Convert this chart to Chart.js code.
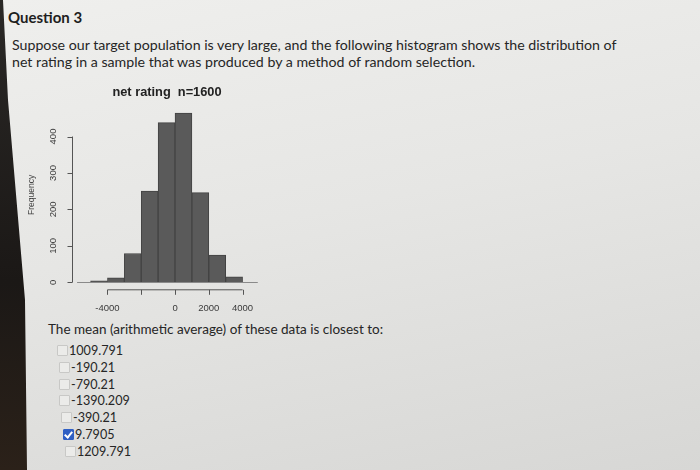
<!DOCTYPE html>
<html>
<head>
<meta charset="utf-8">
<script src="https://cdn.jsdelivr.net/npm/chart.js@4.4.1/dist/chart.umd.min.js"></script>
<style>
  body {
    margin: 0;
    width: 700px;
    height: 470px;
    overflow: hidden;
    position: relative;
    background: linear-gradient(168deg, #efefed 0%, #e6e6e4 45%, #d7d7d5 100%);
    font-family: "Lato", "Open Sans", sans-serif;
    color: #262626;
  }
  .edge {
    position: absolute; left: 0; top: 0; width: 40px; height: 470px;
    background: linear-gradient(180deg, #2a2826 0%, #1b1816 60%, #2b2119 100%);
    clip-path: polygon(0 0, 3px 0, 8px 100px, 25px 300px, 27px 470px, 0 470px);
  }
  .q { position: absolute; left: 8px; top: 7px; font-size: 15px; font-weight: 700; line-height: 20px; color: #1e1e1e; }
  .para { position: absolute; left: 12px; top: 36px; font-size: 14.2px; line-height: 17px; white-space: nowrap; }
  .ask { position: absolute; left: 48px; top: 321px; font-size: 13.5px; line-height: 17px; }
  .opt { position: absolute; font-size: 12.6px; line-height: 16px; height: 16px; white-space: nowrap; }
  .box { display: inline-block; width: 9px; height: 9px; border: 1px solid #c8c8c6; background: #ebebe9; border-radius: 1px; vertical-align: -1px; margin-right: 1px; }
  .box.on { background: #2f5fc4; border-color: #2f5fc4; position: relative; }
  .box.on::after { content: ""; position: absolute; left: 2px; top: 0px; width: 3px; height: 6px; border: solid #fff; border-width: 0 2px 2px 0; transform: rotate(40deg); }
  #hist { position: absolute; left: 0; top: 80px; }
</style>
</head>
<body>
<div class="edge"></div>
<div class="q">Question 3</div>
<div class="para">Suppose our target population is very large, and the following histogram shows the distribution of<br>net rating in a sample that was produced by a method of random selection.</div>
<canvas id="hist" width="300" height="240"></canvas>
<div class="ask">The mean (arithmetic average) of these data is closest to:</div>
<div id="opts"></div>
<script>
// histogram bins (midpoints) and counts
const binMids = [-4500, -3500, -2500, -1500, -500, 500, 1500, 2500, 3500];
const counts = [4, 12, 79, 250, 438, 464, 246, 75, 15];
const xTicks = [-4000, -2000, 0, 2000, 4000];
const xLabels = ["-4000", "", "0", "2000", "4000"];
const yTicks = [0, 100, 200, 300, 400];
const answers = ["1009.791", "-190.21", "-790.21", "-1390.209", "-390.21", "9.7905", "1209.791"];
const picked = 5;

// answer list, slightly skewed like the photo
const optLeft = [57, 59, 59, 59, 61, 63, 65];
const optsDiv = document.getElementById("opts");
answers.forEach((a, i) => {
  const d = document.createElement("div");
  d.className = "opt";
  d.style.left = optLeft[i] + "px";
  d.style.top = (343 + i * 16.8) + "px";
  d.innerHTML = '<span class="box' + (i == picked ? " on" : "") + '"></span>' + a;
  optsDiv.appendChild(d);
});

// R style detached axes
const rAxes = {
  id: "rAxes",
  afterDatasetsDraw(chart) {
    const ctx = chart.ctx;
    const x = chart.scales.x, y = chart.scales.y;
    const area = chart.chartArea;
    ctx.save();
    ctx.lineWidth = 1;
    // base line
    ctx.strokeStyle = "#8a8a8a";
    const y0 = Math.round(y.getPixelForValue(0)) + 0.5;
    ctx.beginPath();
    ctx.moveTo(x.getPixelForValue(-5800), y0);
    ctx.lineTo(x.getPixelForValue(4900), y0);
    ctx.stroke();
    // y axis
    ctx.strokeStyle = "#555";
    const ax = area.left + 0.5;
    ctx.beginPath();
    ctx.moveTo(ax, y.getPixelForValue(yTicks[0]));
    ctx.lineTo(ax, y.getPixelForValue(yTicks[yTicks.length - 1]));
    yTicks.forEach((v) => {
      const py = Math.round(y.getPixelForValue(v)) + 0.5;
      ctx.moveTo(ax, py);
      ctx.lineTo(ax - 5, py);
    });
    ctx.stroke();
    ctx.fillStyle = "#3a3a3a";
    ctx.font = "9.5px 'Liberation Sans'";
    ctx.textAlign = "center";
    ctx.textBaseline = "middle";
    yTicks.forEach((v) => {
      ctx.save();
      ctx.translate(ax - 19, y.getPixelForValue(v));
      ctx.rotate(-Math.PI / 2);
      ctx.fillText(String(v), 0, 0);
      ctx.restore();
    });
    // x axis
    const ay = area.bottom + 7.5;
    ctx.beginPath();
    ctx.moveTo(x.getPixelForValue(xTicks[0]), ay);
    ctx.lineTo(x.getPixelForValue(xTicks[xTicks.length - 1]), ay);
    xTicks.forEach((v) => {
      const px = Math.round(x.getPixelForValue(v)) + 0.5;
      ctx.moveTo(px, ay);
      ctx.lineTo(px, ay + 5);
    });
    ctx.stroke();
    ctx.restore();
  },
};

new Chart(document.getElementById("hist"), {
  type: "bar",
  data: {
    datasets: [{
      data: binMids.map((m, i) => ({ x: m, y: counts[i] })),
      backgroundColor: "#5a5a5a",
      borderColor: "#434343",
      borderWidth: 1,
      barPercentage: 1,
      categoryPercentage: 1,
    }],
  },
  options: {
    responsive: false,
    animation: false,
    layout: { padding: { left: 0, right: 38, top: 0, bottom: 0 } },
    plugins: {
      legend: { display: false },
      tooltip: { enabled: false },
      title: {
        display: true,
        fullSize: false,
        text: "net rating  n=1600",
        color: "#222",
        font: { family: "Liberation Sans", size: 12.8, weight: "bold" },
        padding: { top: 5, bottom: 7 },
      },
    },
    scales: {
      x: {
        type: "linear",
        offset: false,
        min: -6100,
        max: 5150,
        grid: { display: false, drawTicks: false, offset: false },
        border: { display: false },
        afterBuildTicks: (s) => { s.ticks = xTicks.map((v) => ({ value: v })); },
        afterFit: (s) => { s.height = 37.7; },
        ticks: {
          autoSkip: false,
          maxRotation: 0,
          padding: 20,
          color: "#3a3a3a",
          font: { family: "Liberation Sans", size: 9.5 },
          callback: (v) => xLabels[xTicks.indexOf(v)],
        },
      },
      y: {
        min: 0,
        max: 480,
        grid: { display: false, drawTicks: false },
        border: { display: false },
        ticks: { display: false },
        afterFit: (s) => { s.width = 72; },
        title: {
          display: true,
          text: "Frequency",
          color: "#444",
          font: { family: "Liberation Sans", size: 8.5 },
          padding: { top: 27, bottom: 0 },
        },
      },
    },
  },
  plugins: [rAxes],
});
</script>
</body>
</html>
